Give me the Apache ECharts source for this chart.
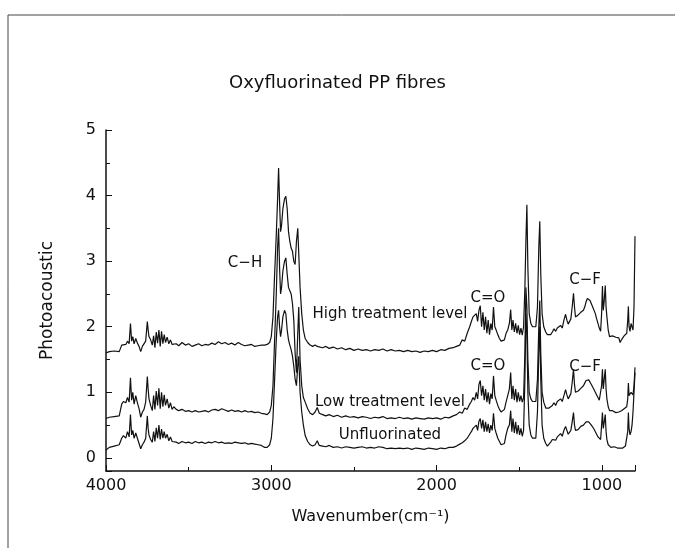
<!DOCTYPE html>
<html>
<head>
<meta charset="utf-8">
<script src="https://cdn.jsdelivr.net/npm/echarts@6/dist/echarts.min.js"></script>
<style>
  html, body { margin: 0; padding: 0; background: #fff; }
  #chart { width: 675px; height: 548px; }
</style>
</head>
<body>
<div id="chart"></div>
<script>
// wavenumbers (cm-1), shared by the three spectra
const wavenumber = [
  4000, 3980, 3950, 3920, 3905, 3895, 3880, 3870, 3860, 3852, 3845, 3838, 3830, 3820, 3810, 3800,
  3790, 3780, 3770, 3760, 3750, 3745, 3740, 3730, 3720, 3712, 3704, 3696, 3688, 3680, 3672, 3664,
  3656, 3648, 3640, 3630, 3620, 3610, 3600, 3590, 3575, 3560, 3540, 3520, 3500, 3480, 3460, 3440,
  3420, 3400, 3380, 3360, 3340, 3320, 3300, 3280, 3260, 3240, 3220, 3200, 3180, 3160, 3140, 3120,
  3100, 3080, 3060, 3040, 3025, 3010, 3000, 2990, 2980, 2970, 2962, 2956, 2950, 2944, 2938, 2930,
  2920, 2912, 2904, 2896, 2888, 2880, 2872, 2864, 2856, 2848, 2840, 2834, 2826, 2816, 2806, 2795,
  2780, 2765, 2750, 2735, 2722, 2710, 2690, 2670, 2650, 2625, 2600, 2575, 2550, 2525, 2500, 2475,
  2450, 2425, 2400, 2375, 2350, 2325, 2300, 2275, 2250, 2225, 2200, 2175, 2150, 2125, 2100, 2075,
  2050, 2025, 2000, 1975, 1950, 1925, 1900, 1880, 1860, 1845, 1830, 1815, 1800, 1790, 1780, 1770,
  1760, 1752, 1744, 1736, 1728, 1720, 1712, 1704, 1696, 1688, 1680, 1672, 1664, 1656, 1648, 1640,
  1630, 1620, 1610, 1600, 1590, 1580, 1570, 1560, 1552, 1545, 1538, 1530, 1522, 1514, 1506, 1498,
  1490, 1482, 1474, 1466, 1460, 1454, 1448, 1440, 1430, 1420, 1410, 1400, 1390, 1382, 1376, 1370,
  1362, 1352, 1340, 1330, 1320, 1310, 1300, 1290, 1280, 1270, 1260, 1250, 1240, 1230, 1220, 1212,
  1204, 1196, 1188, 1180, 1172, 1166, 1160, 1152, 1144, 1136, 1128, 1120, 1112, 1104, 1096, 1088,
  1080, 1072, 1064, 1056, 1048, 1040, 1032, 1024, 1016, 1008, 1002, 997, 992, 986, 980, 975,
  970, 962, 954, 946, 936, 926, 916, 906, 898, 890, 882, 874, 866, 858, 850, 844,
  840, 836, 830, 824, 818, 812, 806, 800
];

const highTreatment = [
  1.60, 1.62, 1.63, 1.62, 1.72, 1.74, 1.73, 1.78, 1.74, 2.05, 1.78, 1.85, 1.74, 1.82, 1.75, 1.70,
  1.62, 1.70, 1.72, 1.78, 2.08, 1.95, 1.85, 1.80, 1.72, 1.86, 1.68, 1.92, 1.75, 1.95, 1.70, 1.93,
  1.74, 1.88, 1.76, 1.84, 1.74, 1.80, 1.73, 1.76, 1.74, 1.71, 1.76, 1.72, 1.74, 1.70, 1.72, 1.74,
  1.71, 1.73, 1.72, 1.75, 1.73, 1.77, 1.74, 1.76, 1.73, 1.75, 1.72, 1.76, 1.73, 1.71, 1.72, 1.73,
  1.70, 1.71, 1.72, 1.72, 1.73, 1.76, 1.85, 2.15, 2.80, 3.40, 3.95, 4.42, 3.90, 3.45, 3.55, 3.80,
  3.95, 3.99, 3.80, 3.45, 3.30, 3.20, 3.15, 3.00, 2.95, 3.30, 3.50, 3.53, 2.60, 2.20, 1.95, 1.82,
  1.76, 1.72, 1.70, 1.72, 1.70, 1.71, 1.68, 1.70, 1.67, 1.69, 1.66, 1.68, 1.65, 1.67, 1.64, 1.66,
  1.64, 1.65, 1.63, 1.65, 1.64, 1.66, 1.63, 1.65, 1.63, 1.64, 1.62, 1.64, 1.62, 1.63, 1.61, 1.63,
  1.62, 1.64, 1.62, 1.65, 1.64, 1.67, 1.68, 1.70, 1.72, 1.80, 1.78, 1.90, 2.00, 2.08, 2.15, 2.12,
  2.20, 2.08, 2.25, 2.32, 2.00, 2.22, 1.95, 2.15, 1.90, 2.10, 1.88, 2.05, 1.95, 2.30, 2.00, 1.95,
  1.88, 1.82, 1.78, 1.76, 1.80, 1.90, 1.95, 2.05, 2.26, 1.95, 2.10, 1.92, 2.05, 1.90, 2.02, 1.88,
  1.98, 1.87, 2.00, 2.60, 3.30, 3.86, 2.90, 2.20, 2.05, 2.00, 1.98, 2.00, 2.30, 3.20, 3.61, 2.80,
  2.20, 2.00, 1.92, 1.88, 1.86, 1.88, 1.92, 1.97, 1.93, 1.98, 2.00, 2.02, 1.98, 2.10, 2.19, 2.10,
  2.04, 2.06, 2.12, 2.30, 2.51, 2.30, 2.15, 2.12, 2.18, 2.20, 2.22, 2.20, 2.25, 2.30, 2.38, 2.43,
  2.44, 2.40, 2.35, 2.30, 2.27, 2.20, 2.12, 2.05, 1.98, 1.93, 2.20, 2.62, 2.25, 2.40, 2.63, 2.30,
  2.15, 1.95, 1.85, 1.84, 1.86, 1.85, 1.84, 1.86, 1.83, 1.76, 1.80, 1.82, 1.86, 1.85, 1.90, 2.10,
  2.31, 2.00, 1.93, 2.05, 2.00, 1.95, 2.30, 3.38
];

const lowTreatment = [
  0.60, 0.62, 0.63, 0.64, 0.82, 0.86, 0.84, 0.92, 0.85, 1.22, 0.88, 1.00, 0.82, 0.95, 0.84, 0.75,
  0.62, 0.70, 0.74, 0.85, 1.24, 1.05, 0.90, 0.80, 0.72, 0.95, 0.74, 1.02, 0.80, 1.06, 0.75, 1.00,
  0.78, 0.96, 0.80, 0.90, 0.76, 0.84, 0.74, 0.78, 0.74, 0.72, 0.74, 0.71, 0.72, 0.70, 0.72, 0.70,
  0.71, 0.72, 0.70, 0.73, 0.74, 0.72, 0.75, 0.73, 0.71, 0.73, 0.71, 0.72, 0.70, 0.72, 0.70, 0.71,
  0.69, 0.70, 0.68, 0.67, 0.66, 0.70, 0.80, 1.10, 1.80, 2.50, 3.20, 3.50, 2.90, 2.50, 2.60, 2.85,
  3.00, 3.05, 2.80, 2.60, 2.55, 2.50, 2.35, 2.10, 1.60, 1.30, 1.90, 2.30, 1.50, 1.10, 0.92, 0.85,
  0.75, 0.68, 0.66, 0.70, 0.77, 0.68, 0.66, 0.64, 0.66, 0.63, 0.65, 0.62, 0.64, 0.62, 0.63, 0.61,
  0.63, 0.62, 0.60, 0.62, 0.61, 0.63, 0.60, 0.61, 0.60, 0.62, 0.60, 0.61, 0.59, 0.61, 0.60, 0.59,
  0.61, 0.60, 0.61, 0.59, 0.62, 0.61, 0.64, 0.66, 0.70, 0.68, 0.76, 0.74, 0.82, 0.86, 0.92, 0.88,
  1.00, 0.90, 1.12, 1.18, 0.95, 1.10, 0.88, 1.05, 0.85, 1.00, 0.82, 0.98, 0.90, 1.25, 0.95, 0.88,
  0.80, 0.74, 0.70, 0.69, 0.74, 0.85, 0.95, 1.05, 1.30, 0.90, 1.10, 0.88, 1.05, 0.85, 1.00, 0.86,
  0.95, 0.85, 0.92, 1.60, 2.60, 2.30, 1.50, 1.00, 0.90, 0.86, 0.84, 0.86, 1.20, 2.00, 2.40, 1.60,
  1.00, 0.85, 0.76, 0.74, 0.76, 0.78, 0.80, 0.84, 0.80, 0.86, 0.88, 0.90, 0.86, 0.95, 1.04, 0.96,
  0.90, 0.92, 0.98, 1.15, 1.35, 1.12, 1.00, 0.98, 1.02, 1.04, 1.06, 1.05, 1.10, 1.14, 1.18, 1.20,
  1.19, 1.16, 1.12, 1.08, 1.05, 1.00, 0.96, 0.92, 0.88, 0.86, 1.10, 1.35, 1.05, 1.20, 1.35, 1.05,
  0.90, 0.78, 0.72, 0.70, 0.72, 0.70, 0.69, 0.72, 0.70, 0.73, 0.72, 0.74, 0.75, 0.76, 0.78, 0.90,
  1.14, 0.95, 0.94, 1.00, 0.98, 0.96, 1.10, 1.38
];

const unfluorinated = [
  0.12, 0.16, 0.18, 0.20, 0.30, 0.34, 0.30, 0.40, 0.32, 0.66, 0.35, 0.42, 0.30, 0.38, 0.30, 0.22,
  0.14, 0.20, 0.24, 0.30, 0.64, 0.45, 0.35, 0.28, 0.24, 0.40, 0.25, 0.46, 0.30, 0.50, 0.28, 0.44,
  0.30, 0.40, 0.30, 0.36, 0.26, 0.32, 0.25, 0.28, 0.24, 0.22, 0.25, 0.23, 0.24, 0.22, 0.25, 0.23,
  0.24, 0.22, 0.24, 0.23, 0.25, 0.23, 0.24, 0.22, 0.23, 0.22, 0.24, 0.23, 0.22, 0.23, 0.21, 0.22,
  0.21, 0.20, 0.19, 0.16, 0.16, 0.20, 0.30, 0.60, 1.20, 1.80, 2.15, 2.25, 2.00, 1.85, 1.95, 2.15,
  2.25, 2.20, 1.95, 1.80, 1.72, 1.65, 1.55, 1.40, 1.20, 1.10, 1.40, 1.55, 1.00, 0.70, 0.50, 0.34,
  0.25, 0.20, 0.18, 0.20, 0.26, 0.19, 0.18, 0.17, 0.19, 0.16, 0.17, 0.15, 0.17, 0.16, 0.15, 0.16,
  0.17, 0.15, 0.16, 0.15, 0.17, 0.16, 0.14, 0.15, 0.14, 0.15, 0.14, 0.15, 0.13, 0.15, 0.14, 0.13,
  0.15, 0.14, 0.13, 0.15, 0.14, 0.16, 0.16, 0.18, 0.21, 0.23, 0.26, 0.30, 0.36, 0.40, 0.45, 0.42,
  0.50, 0.42, 0.56, 0.60, 0.45, 0.58, 0.40, 0.55, 0.40, 0.52, 0.38, 0.50, 0.42, 0.68, 0.45, 0.38,
  0.30, 0.25, 0.20, 0.18, 0.22, 0.35, 0.45, 0.50, 0.72, 0.40, 0.60, 0.38, 0.55, 0.36, 0.50, 0.35,
  0.45, 0.33, 0.42, 1.20, 2.20, 1.90, 1.00, 0.50, 0.35, 0.30, 0.28, 0.30, 0.70, 1.60, 2.00, 1.20,
  0.50, 0.30, 0.22, 0.18, 0.20, 0.24, 0.28, 0.30, 0.27, 0.32, 0.35, 0.37, 0.33, 0.42, 0.48, 0.42,
  0.36, 0.38, 0.42, 0.55, 0.69, 0.50, 0.42, 0.40, 0.43, 0.46, 0.48, 0.47, 0.50, 0.53, 0.55, 0.56,
  0.55, 0.52, 0.50, 0.47, 0.44, 0.40, 0.36, 0.32, 0.29, 0.28, 0.50, 0.69, 0.45, 0.55, 0.66, 0.40,
  0.28, 0.20, 0.17, 0.16, 0.15, 0.17, 0.16, 0.15, 0.17, 0.15, 0.16, 0.15, 0.17, 0.18, 0.20, 0.40,
  0.69, 0.45, 0.35, 0.40, 0.50, 0.70, 1.00, 1.30
];

const yTicks = [0, 1, 2, 3, 4, 5];
const xTicks = [4000, 3000, 2000, 1000];

const FONT = 'DejaVu Sans';
const INK = '#111';

function pairs(values) {
  return wavenumber.map((w, i) => [w, values[i]]);
}

function spectrum(name, values) {
  return {
    name: name,
    type: 'line',
    data: pairs(values),
    showSymbol: false,
    symbol: 'none',
    smooth: false,
    lineStyle: {color: INK, width: 1.2},
    silent: true
  };
}

function note(text, x, y) {
  return {
    type: 'text', x: x, y: y,
    style: {text: text, font: '15px ' + FONT, fill: INK, textAlign: 'center', textVerticalAlign: 'middle'}
  };
}

const chart = echarts.init(document.getElementById('chart'), null, {renderer: 'canvas'});

chart.setOption({
  backgroundColor: '#fff',
  animation: false,
  title: {
    text: 'Oxyfluorinated PP fibres',
    left: 'center',
    top: 69,
    textStyle: {fontFamily: FONT, fontSize: 18, fontWeight: 'normal', color: INK}
  },
  grid: {left: 106, right: 40, top: 130, bottom: 77},
  xAxis: {
    type: 'value',
    inverse: true,
    min: 800,
    max: 4000,
    splitNumber: 3,
    name: 'Wavenumber(cm\u207B\u00B9)',
    nameLocation: 'middle',
    nameGap: 38,
    nameTextStyle: {fontFamily: FONT, fontSize: 16, color: INK},
    axisLine: {onZero: false, lineStyle: {color: INK, width: 1.5}},
    axisTick: {inside: true, length: 6, lineStyle: {color: INK}},
    minorTick: {show: true, splitNumber: 2, length: 4, lineStyle: {color: INK}},
    splitLine: {show: false},
    axisLabel: {
      fontFamily: FONT, fontSize: 16, color: INK, margin: 7,
      formatter: v => (xTicks.indexOf(v) >= 0 ? String(v) : '')
    }
  },
  yAxis: {
    type: 'value',
    min: -0.2,
    max: 5,
    splitNumber: 5,
    name: 'Photoacoustic',
    nameLocation: 'middle',
    nameGap: 50,
    nameRotate: 90,
    nameTextStyle: {fontFamily: FONT, fontSize: 17, color: INK},
    axisLine: {onZero: false, lineStyle: {color: INK, width: 1.5}},
    axisTick: {inside: true, length: 6, lineStyle: {color: INK}},
    minorTick: {show: true, splitNumber: 2, length: 4, lineStyle: {color: INK}},
    splitLine: {show: false},
    axisLabel: {
      fontFamily: FONT, fontSize: 16, color: INK, margin: 10,
      formatter: v => (yTicks.indexOf(v) >= 0 ? String(v) : '')
    }
  },
  series: [
    spectrum('High treatment level', highTreatment),
    spectrum('Low treatment level', lowTreatment),
    spectrum('Unfluorinated', unfluorinated)
  ],
  graphic: [
    // scanned page border
    {type: 'line', shape: {x1: 8, y1: 15, x2: 675, y2: 15}, style: {stroke: '#444', lineWidth: 1}},
    {type: 'line', shape: {x1: 8, y1: 15, x2: 8, y2: 548}, style: {stroke: '#444', lineWidth: 1}},
    // band labels
    note('C\u2212H', 245, 263),
    note('High treatment level', 390, 314),
    note('Low treatment level', 390, 402),
    note('Unfluorinated', 390, 435),
    note('C=O', 488, 298),
    note('C=O', 488, 366),
    note('C\u2212F', 585, 280),
    note('C\u2212F', 585, 367)
  ]
});

window.onresize = () => chart.resize();
</script>
</body>
</html>
